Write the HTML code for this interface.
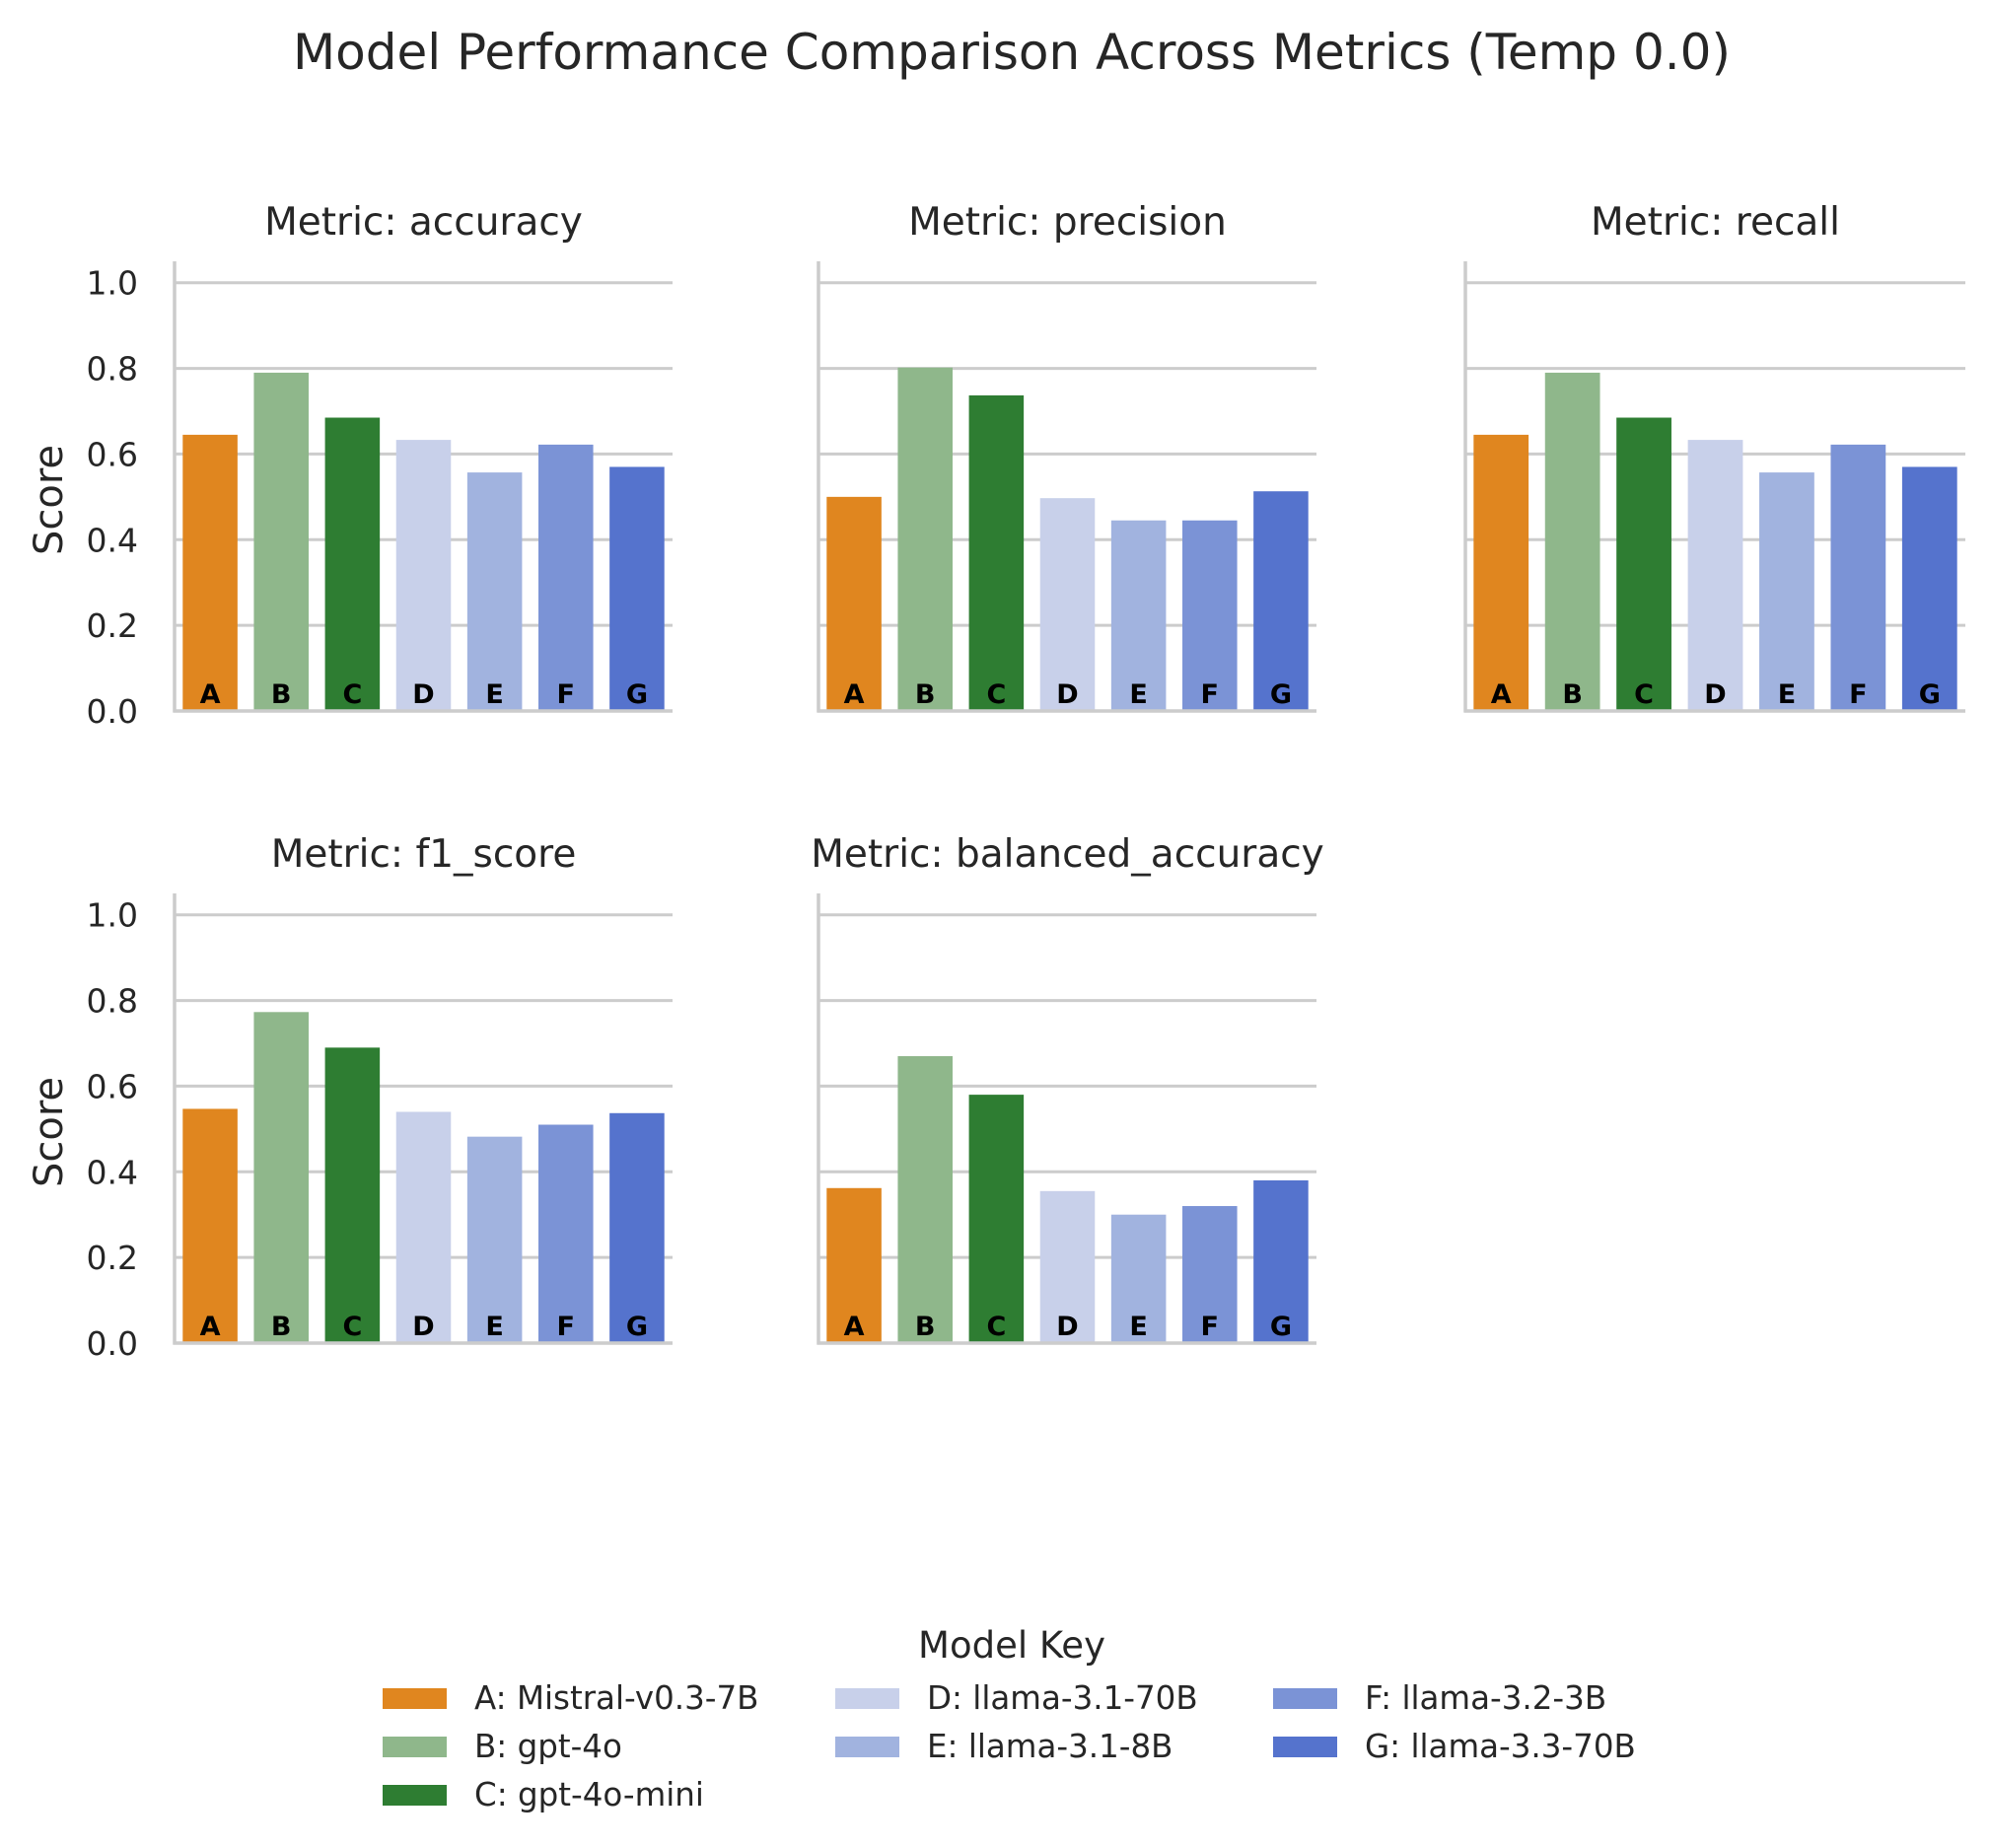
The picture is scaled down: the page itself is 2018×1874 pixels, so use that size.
<!DOCTYPE html>
<html><head><meta charset="utf-8"><style>
html,body{margin:0;padding:0;background:#fff}
svg{display:block;font-family:"DejaVu Sans","Liberation Sans",sans-serif}
</style></head><body>
<svg id="chart" width="2018" height="1874" viewBox="0 0 2018 1874" xmlns="http://www.w3.org/2000/svg">
<text x="1026" y="70" font-size="50" text-anchor="middle" fill="#262626">Model Performance Comparison Across Metrics (Temp 0.0)</text>
<g id="panels"></g>
<g id="legend"></g>
</svg>
<script>
const keys = ["A","B","C","D","E","F","G"];
const modelNames = ["Mistral-v0.3-7B","gpt-4o","gpt-4o-mini","llama-3.1-70B","llama-3.1-8B","llama-3.2-3B","llama-3.3-70B"];
const colors = ["#e0861f","#8fb78b","#2e7d32","#c8d0ea","#a1b3df","#7b93d6","#5573cd"];
const metrics = ["accuracy","precision","recall","f1_score","balanced_accuracy"];
const accuracy = [0.645,0.79,0.685,0.633,0.557,0.622,0.570];
const precision = [0.500,0.802,0.737,0.497,0.445,0.445,0.513];
const recall = [0.645,0.79,0.685,0.633,0.557,0.622,0.570];
const f1_score = [0.547,0.773,0.690,0.540,0.482,0.510,0.537];
const balanced_accuracy = [0.362,0.670,0.580,0.355,0.300,0.320,0.380];
const yTicks = [0.0,0.2,0.4,0.6,0.8,1.0];
const yTickLabels = ["0.0","0.2","0.4","0.6","0.8","1.0"];
const yMax = 1.05;

const series = [accuracy,precision,recall,f1_score,balanced_accuracy];
const NS = "http://www.w3.org/2000/svg";
const panelsG = document.getElementById('panels');
const cols = [[177,682],[830,1335],[1486,1993]];
const rows = [[721,265],[1362,906]];
function mk(tag, attrs, parent){
  const e = document.createElementNS(NS, tag);
  for (const k in attrs) e.setAttribute(k, attrs[k]);
  parent.appendChild(e); return e;
}
metrics.forEach((m, i) => {
  const [x0, x1] = cols[i % 3];
  const [y0, yTop] = rows[Math.floor(i / 3)];
  const yScale = v => y0 - v / yMax * (y0 - yTop);
  const slot = (x1 - x0) / keys.length;
  const xScale = j => x0 + slot * (j + 0.5);
  const g = mk('g', {}, panelsG);
  
  
  const t = mk('text', {x:(x0+x1)/2, y:yTop - 27, 'font-size':39, 'text-anchor':'middle', fill:'#262626'}, g);
  t.textContent = 'Metric: ' + m;
  
  
  yTicks.forEach((v, k) => {
    if (v === 0) return;
    const gl = mk('line', {x1:x0, x2:x1, y1:yScale(v), y2:yScale(v), stroke:'#cccccc', 'stroke-width':3}, g);
    
    
  });
  if (i % 3 === 0) {
    yTicks.forEach((v, k) => {
      const tl = mk('text', {x:x0 - 37, y:yScale(v) + 12, 'font-size':33, 'text-anchor':'end', fill:'#262626'}, g);
      tl.textContent = yTickLabels[k];
      
      
    });
    const yl = mk('text', {x:0, y:0, 'font-size':40, 'text-anchor':'middle', fill:'#262626', transform:'translate(63,' + ((y0 + yTop)/2 + 14) + ') rotate(-90)'}, g);
    yl.textContent = 'Score';
    
    
  }
  series[i].forEach((v, j) => {
    const bw = slot * 0.77;
    const r = mk('rect', {x:xScale(j) - bw/2, y:yScale(v), width:bw, height:y0 - yScale(v), fill:colors[j]}, g);
    
    
    const lt = mk('text', {x:xScale(j), y:y0 - 8, 'font-size':27, 'font-weight':'bold', 'text-anchor':'middle', fill:'#000'}, g);
    lt.textContent = keys[j];
    
    
  });
  const ls = mk('line', {x1:x0, x2:x0, y1:yTop, y2:y0 + 1.5, stroke:'#cccccc', 'stroke-width':3.5}, g);
  
  
  const bs = mk('line', {x1:x0 - 1.5, x2:x1, y1:y0, y2:y0, stroke:'#cccccc', 'stroke-width':3.5}, g);
  
  
});
const leg = document.getElementById('legend');
const lt = mk('text', {x:1026, y:1681, 'font-size':37, 'text-anchor':'middle', fill:'#262626'}, leg);
lt.textContent = 'Model Key';


const legCols = [388, 847, 1291];
const legRows = [1722, 1771, 1820];
const colOf = [0,0,0,1,1,2,2], rowOf = [0,1,2,0,1,0,1];
keys.forEach((k, j) => {
  const x = legCols[colOf[j]], y = legRows[rowOf[j]];
  const e = mk('g', {}, leg);
  
  
  mk('rect', {x:x, y:y - 10, width:65, height:21, fill:colors[j]}, e);
  const tx = mk('text', {x:x + 93, y:y + 11, 'font-size':32.5, fill:'#262626'}, e);
  tx.textContent = k + ': ' + modelNames[j];
});
</script>
</body></html>
